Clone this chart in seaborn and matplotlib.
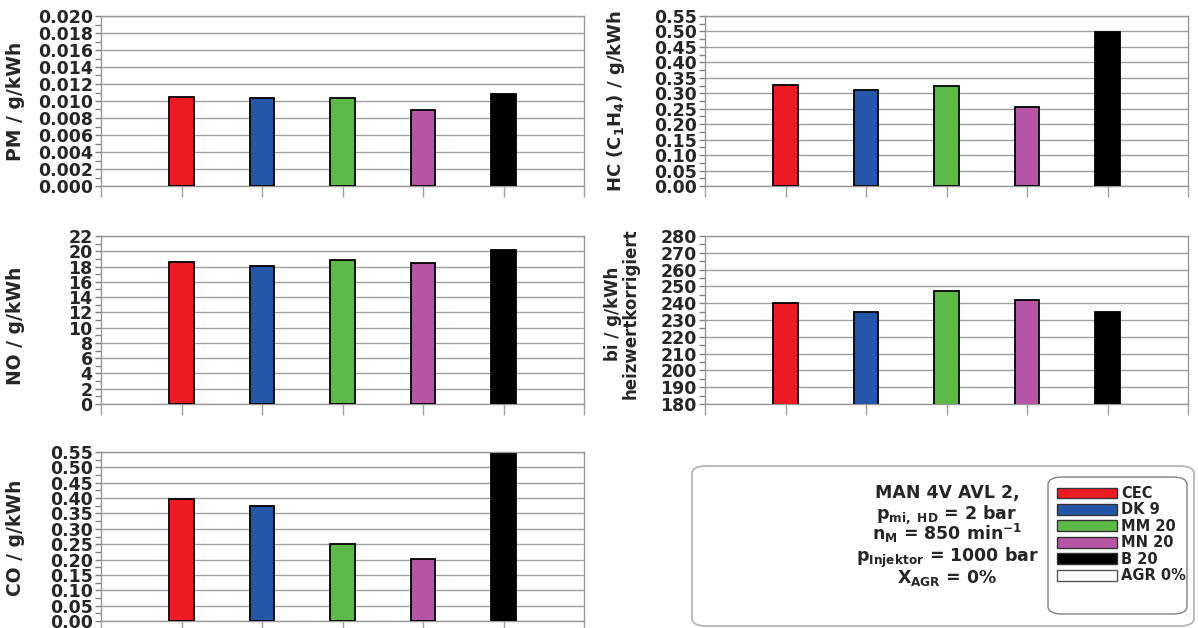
import matplotlib
matplotlib.use('Agg')
import matplotlib.pyplot as plt
import matplotlib.patches as mpatches
from matplotlib.ticker import MultipleLocator, StrMethodFormatter
import pandas as pd
import seaborn as sns

# fuels and their colours
fuels = ['CEC', 'DK 9', 'MM 20', 'MN 20', 'B 20']
colors = ['#ED1C24', '#2457A7', '#5CB947', '#B655A6', '#000000']

# values
pm = [0.0105, 0.0103, 0.0103, 0.0089, 0.0108]
hc = [0.328, 0.309, 0.323, 0.256, 0.498]
no = [18.6, 18.1, 18.9, 18.4, 20.2]
bi = [240.0, 235.0, 247.0, 242.0, 235.0]
co = [0.398, 0.375, 0.252, 0.203, 0.543]

W, H = 1198, 628
sns.set_style('white')
plt.rcParams['font.family'] = ['DejaVu Sans']
plt.rcParams['font.weight'] = 'bold'
plt.rcParams['mathtext.default'] = 'bf'

fig = plt.figure(figsize=(W / 100, H / 100), dpi=100)


def px_rect(x0, y0, x1, y1):
    # pixel box -> figure fraction
    return [x0 / W, 1 - y1 / H, (x1 - x0) / W, (y1 - y0) / H]


def draw_panel(rect, values, ymin, ymax, step, fmt):
    ax = fig.add_axes(rect)
    df = pd.DataFrame({'fuel': fuels, 'value': values})
    sns.barplot(data=df, x='fuel', y='value', hue='fuel', palette=colors,
                saturation=1, width=0.31, edgecolor='black', linewidth=1.3,
                legend=False, ax=ax, zorder=3)
    ax.set_xlim(-1, 5)
    ax.set_xticks(range(-1, 6))
    ax.set_xticklabels([])
    ax.set_ylim(ymin, ymax)
    ax.yaxis.set_major_locator(MultipleLocator(step))
    ax.yaxis.set_minor_locator(MultipleLocator(step / 2))
    ax.yaxis.set_major_formatter(StrMethodFormatter(fmt))
    ax.grid(axis='y', color='#a0a0a0', lw=1)
    ax.set_axisbelow(True)
    ax.tick_params(axis='y', which='both', left=True, length=4, width=1,
                   color='#808080', labelsize=12.5, pad=2)
    ax.tick_params(axis='x', bottom=True, length=8, width=1, color='#a0a0a0')
    for lab in ax.get_yticklabels():
        lab.set_fontweight('bold')
    ax.set_xlabel('')
    ax.set_ylabel('')
    for s in ax.spines.values():
        s.set_color('#999999')
        s.set_linewidth(1)
    return ax


draw_panel(px_rect(101, 16, 584, 186), pm, 0, 0.020, 0.002, '{x:.3f}')
draw_panel(px_rect(705, 16, 1188, 186), hc, 0, 0.55, 0.05, '{x:.2f}')
draw_panel(px_rect(101, 236, 584, 404), no, 0, 22, 2, '{x:.0f}')
draw_panel(px_rect(705, 236, 1188, 404), bi, 180, 280, 10, '{x:.0f}')
draw_panel(px_rect(101, 452, 584, 621), co, 0, 0.55, 0.05, '{x:.2f}')

# y labels
ylab = dict(rotation=90, ha='center', va='center', fontweight='bold')
fig.text(16 / W, 1 - 101 / H, 'PM / g/kWh', fontsize=13.5, **ylab)
fig.text(616 / W, 1 - 101 / H, r'HC (C$_1$H$_4$) / g/kWh', fontsize=13, **ylab)
fig.text(16 / W, 1 - 326 / H, 'NO / g/kWh', fontsize=13.5, **ylab)
fig.text(622 / W, 1 - 314 / H, 'bi / g/kWh\nheizwertkorrigiert', linespacing=1.0,
         fontsize=12, **ylab)
fig.text(16 / W, 1 - 538 / H, 'CO / g/kWh', fontsize=13.5, **ylab)

# info box
r = px_rect(692, 466, 1194, 626)
fig.add_artist(mpatches.FancyBboxPatch((r[0], r[1]), r[2], r[3],
               boxstyle='round,pad=0,rounding_size=0.012', transform=fig.transFigure,
               facecolor='white', edgecolor='#b0b0b0', lw=1.2))
r = px_rect(1048, 477, 1187, 614)
fig.add_artist(mpatches.FancyBboxPatch((r[0], r[1]), r[2], r[3],
               boxstyle='round,pad=0,rounding_size=0.012', transform=fig.transFigure,
               facecolor='white', edgecolor='#808080', lw=1))

info = ['MAN 4V AVL 2,',
        r'p$_{mi,\ HD}$ = 2 bar',
        r'n$_M$ = 850 min$^{-1}$',
        r'p$_{Injektor}$ = 1000 bar',
        r'X$_{AGR}$ = 0%']
baselines = [498, 519, 540, 562, 583]
for line, yb in zip(info, baselines):
    fig.text(947 / W, 1 - yb / H, line, ha='center', va='baseline',
             fontsize=12.5, fontweight='bold')

handles = [mpatches.Patch(facecolor=c, edgecolor='#333333', lw=1, label=f)
           for f, c in zip(fuels, colors)]
handles.append(mpatches.Patch(facecolor='white', edgecolor='#555555', lw=1, label='AGR 0%'))
fig.legend(handles=handles, loc='upper left', bbox_to_anchor=(1057 / W, 1 - 486 / H),
           frameon=False, handlelength=4.1, handleheight=0.75,
           labelspacing=0.1, handletextpad=0.3, borderpad=0, borderaxespad=0,
           prop={'weight': 'bold', 'size': 10.5})

fig.savefig('out.png', dpi=100)
